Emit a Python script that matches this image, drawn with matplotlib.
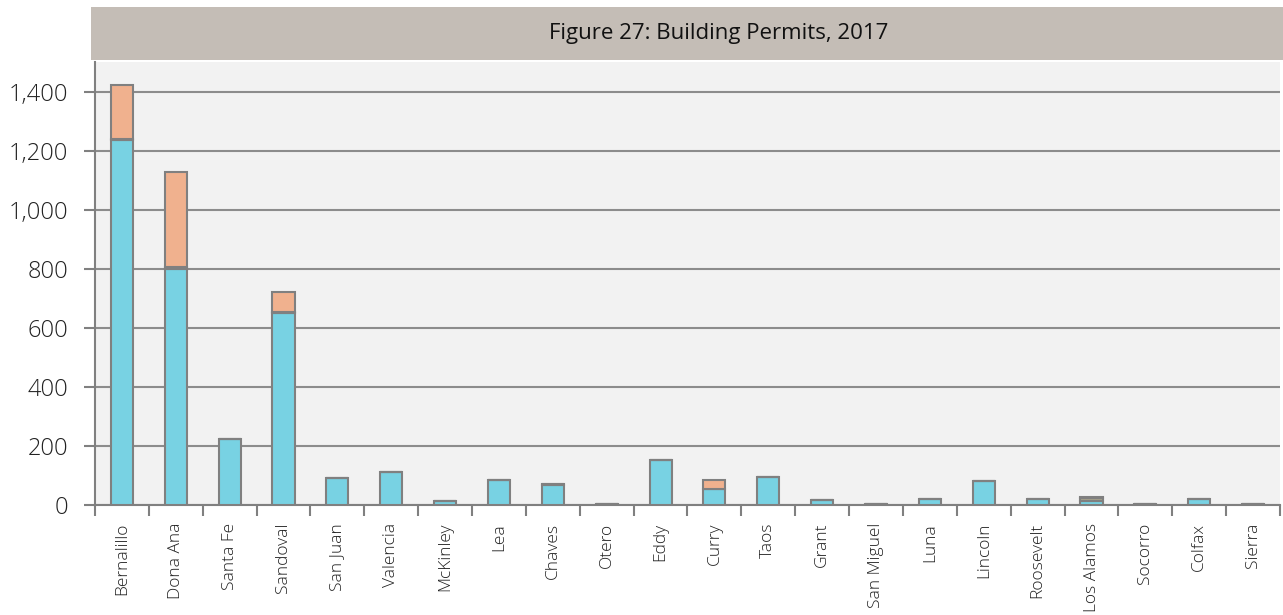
import numpy as np
import matplotlib
matplotlib.use('Agg')
import matplotlib.pyplot as plt
from matplotlib.patches import Rectangle
from matplotlib.ticker import FuncFormatter, FixedLocator

# datos
counties = ['Bernalillo', 'Dona Ana', 'Santa Fe', 'Sandoval', 'San Juan', 'Valencia',
            'McKinley', 'Lea', 'Chaves', 'Otero', 'Eddy', 'Curry', 'Taos', 'Grant',
            'San Miguel', 'Luna', 'Lincoln', 'Roosevelt', 'Los Alamos', 'Socorro',
            'Colfax', 'Sierra']
single_family = [1236, 800, 222, 650, 92, 112, 12, 83, 68, 3, 152, 53, 95, 15, 3, 20, 81, 20, 14, 3, 20, 3]
two_to_four = [4, 6, 0, 5, 0, 0, 0, 0, 3, 0, 0, 2, 0, 0, 0, 0, 0, 0, 8, 0, 0, 0]
five_plus = [184, 321, 0, 67, 0, 0, 0, 0, 0, 0, 0, 31, 0, 0, 0, 0, 0, 0, 4, 0, 0, 0]
y_ticks = [0, 200, 400, 600, 800, 1000, 1200, 1400]

plt.rcParams['font.family'] = ['Open Sans', 'DejaVu Sans']
plt.rcParams['font.weight'] = 'light'

fig = plt.figure(figsize=(12.83, 6.15), dpi=100)
ax = fig.add_axes([0.074, 0.179, 0.9237, 0.720])
ax.set_facecolor('#F2F2F2')

x = np.arange(len(counties))
sf = np.array(single_family)
tf = np.array(two_to_four)
fp = np.array(five_plus)
edge = '#808080'
w = 0.41
ax.bar(x, sf, w, color='#78D2E3', edgecolor=edge, linewidth=1.5, zorder=3)
ax.bar(x, tf, w, bottom=sf, color='#A8A48C', edgecolor=edge, linewidth=1.5, zorder=3)
ax.bar(x, fp, w, bottom=sf + tf, color='#F0B18E', edgecolor=edge, linewidth=1.5, zorder=3)

ax.set_xlim(-0.5, len(counties) - 0.5)
ax.set_ylim(0, 1500)
ax.set_yticks(y_ticks)
ax.yaxis.set_major_formatter(FuncFormatter(lambda v, p: f'{int(v):,}'))
ax.tick_params(axis='y', length=8, width=1.5, color=edge, labelsize=17, pad=11, labelcolor='#222222')
ax.grid(axis='y', color='#8C8C8C', linewidth=1.5, zorder=1)

ax.set_xticks(x)
ax.set_xticklabels(counties, rotation=90, fontsize=12.5, color='#222222')
ax.tick_params(axis='x', which='major', length=0, pad=13)
ax.xaxis.set_minor_locator(FixedLocator(np.arange(len(counties) + 1) - 0.5))
ax.tick_params(axis='x', which='minor', length=8, width=1.5, color=edge)

for s in ['top', 'right']:
    ax.spines[s].set_visible(False)
ax.spines['left'].set_color(edge)
ax.spines['left'].set_linewidth(1.5)
ax.spines['bottom'].set_color(edge)
ax.spines['bottom'].set_linewidth(1.5)

# banda del titulo
fig.patches.append(Rectangle((0.0709, 0.9024), 0.93, 0.0862, transform=fig.transFigure,
                             facecolor='#C4BDB6', edgecolor='none'))
fig.text(0.56, 0.945, 'Figure 27: Building Permits, 2017', ha='center', va='center',
         fontsize=16, fontweight='normal', color='#111111')

plt.savefig('out.png', dpi=100)
